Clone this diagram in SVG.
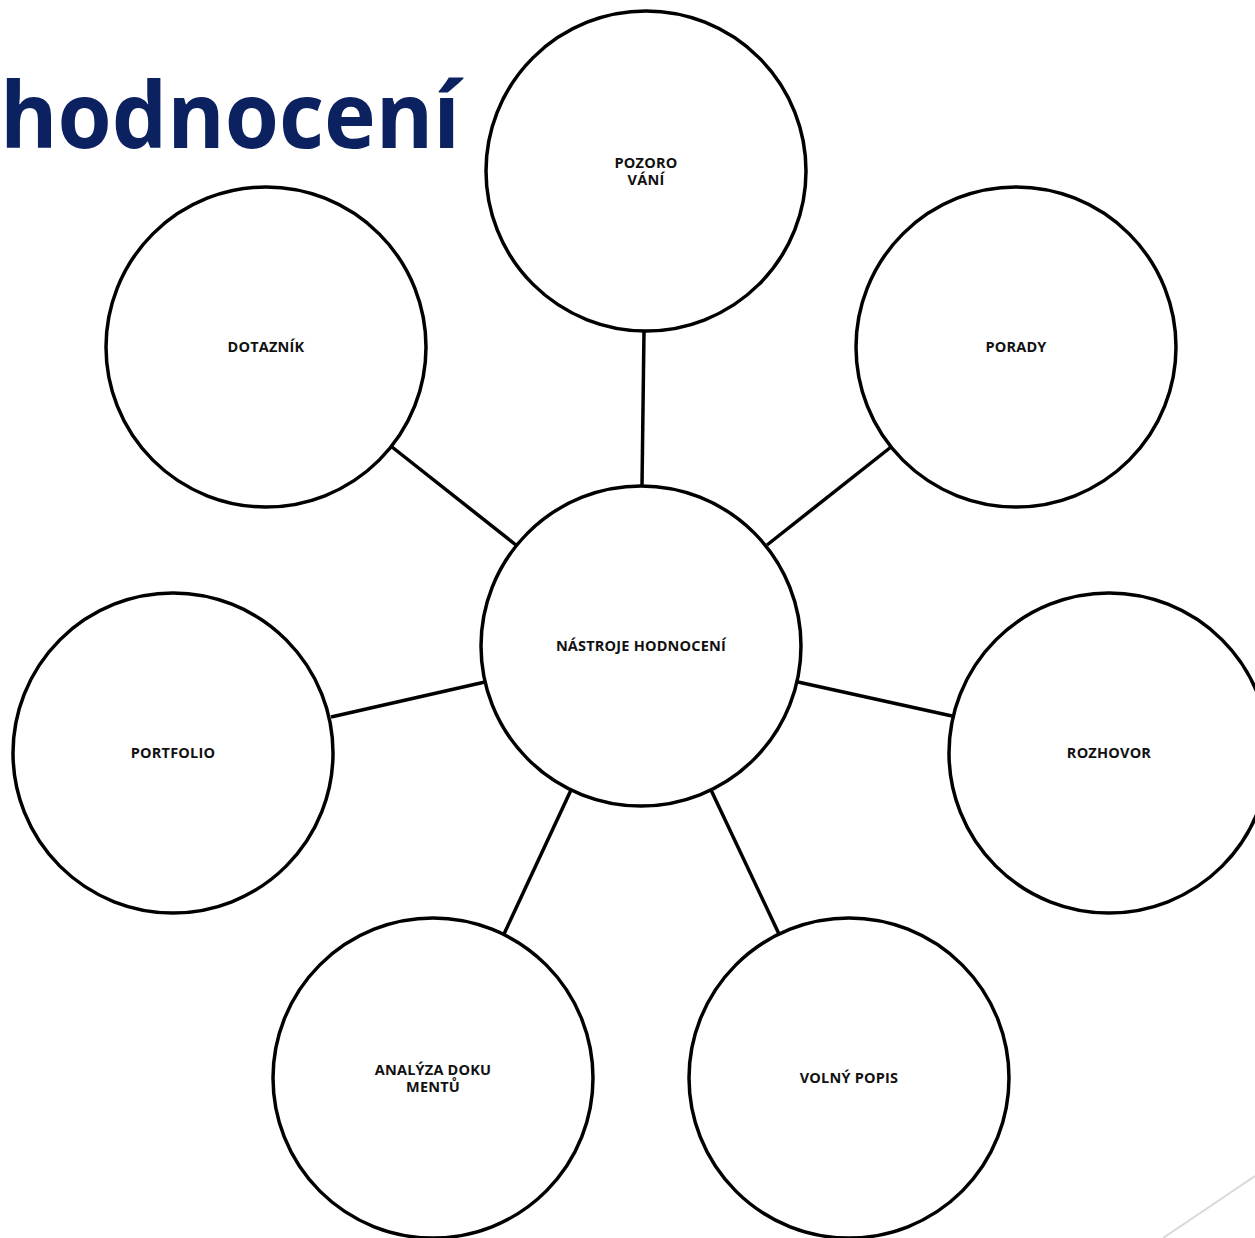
<svg xmlns="http://www.w3.org/2000/svg" width="1255" height="1238" viewBox="0 0 1255 1238">
<style>
.n{fill:#fff;stroke:#000;stroke-width:3.5}
.c{stroke:#000;stroke-width:3.5;fill:none}
.t{font-family:"Open Sans","DejaVu Sans",sans-serif;font-weight:bold;font-size:14.5px;letter-spacing:0.2px;fill:#111;text-anchor:middle}
.title{font-family:"Open Sans","DejaVu Sans",sans-serif;font-weight:bold;font-size:92px;fill:#0b2160}
</style>
<rect width="1255" height="1238" fill="#fff"/>
<text class="title" x="0" y="148" textLength="460" lengthAdjust="spacingAndGlyphs">hodnocení</text>
<line x1="1163" y1="1238" x2="1255" y2="1176" stroke="#d9d9d9" stroke-width="2"/>
<g id="connectors">
<line class="c" x1="644" y1="331" x2="642" y2="486"/>
<line class="c" x1="891" y1="447" x2="767" y2="545"/>
<line class="c" x1="392" y1="447" x2="516" y2="545"/>
<line class="c" x1="331" y1="717" x2="485" y2="682"/>
<line class="c" x1="798" y1="682" x2="952" y2="716"/>
<line class="c" x1="571" y1="790" x2="504" y2="934"/>
<line class="c" x1="711" y1="790" x2="779" y2="934"/>
</g>
<g id="center"><circle class="n" cx="641" cy="646" r="160"/><text class="t" x="641" y="651">NÁSTROJE HODNOCENÍ</text></g>
<g id="pozorovani"><circle class="n" cx="646" cy="171" r="160"/><text class="t" x="646" y="168">POZORO</text><text class="t" x="646" y="185">VÁNÍ</text></g>
<g id="porady"><circle class="n" cx="1016" cy="347" r="160"/><text class="t" x="1016" y="352">PORADY</text></g>
<g id="dotaznik"><circle class="n" cx="266" cy="347" r="160"/><text class="t" x="266" y="352">DOTAZNÍK</text></g>
<g id="portfolio"><circle class="n" cx="173" cy="753" r="160"/><text class="t" x="173" y="758">PORTFOLIO</text></g>
<g id="rozhovor"><circle class="n" cx="1109" cy="753" r="160"/><text class="t" x="1109" y="758">ROZHOVOR</text></g>
<g id="analyza"><circle class="n" cx="433" cy="1078" r="160"/><text class="t" x="433" y="1075">ANALÝZA DOKU</text><text class="t" x="433" y="1092">MENTŮ</text></g>
<g id="volny"><circle class="n" cx="849" cy="1078" r="160"/><text class="t" x="849" y="1083">VOLNÝ POPIS</text></g>
</svg>
